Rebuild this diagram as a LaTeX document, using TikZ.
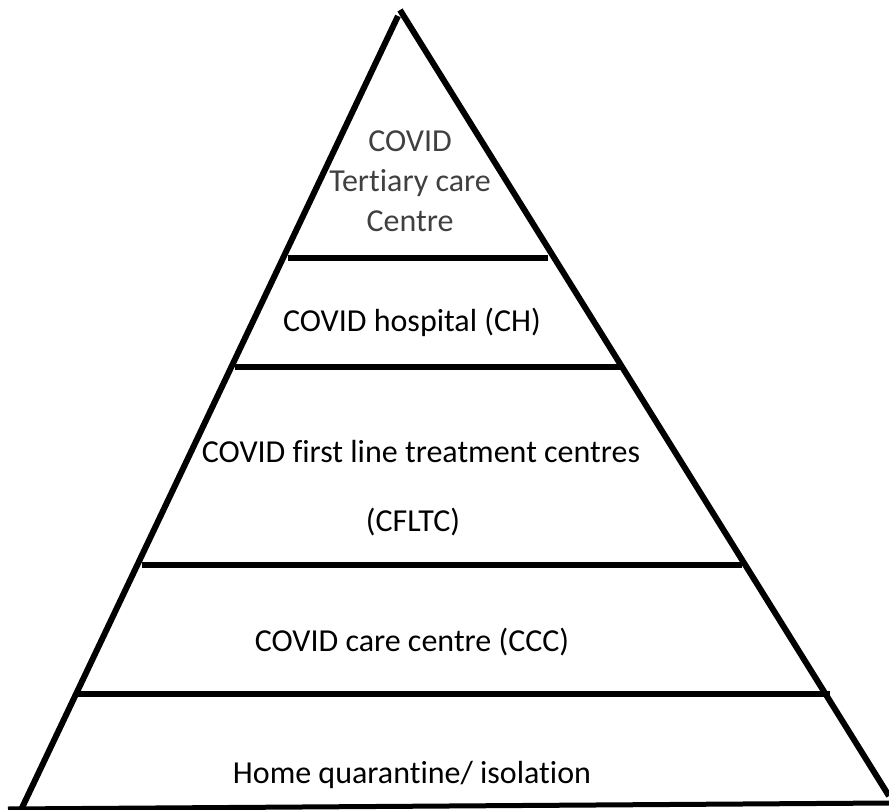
\documentclass[tikz,border=0pt]{standalone}
\usepackage{fontspec}
\setmainfont{Carlito}[Ligatures=NoCommon]
\usepackage{tikz}
\usetikzlibrary{positioning}
\usepackage{xcolor}

\begin{document}
\begin{tikzpicture}[
      x=1pt, y=-1pt,
      every node/.style={font=\fontsize{32}{40}\selectfont, inner sep=0pt},
      lbl/.style={anchor=base, text=black},
      toplbl/.style={align=center, text=black!75},
      side/.style={line width=6pt},
      tier/.style={line width=6pt}
    ]
    \useasboundingbox (0,0) rectangle (889,810);

    % ===== Outline of the pyramid =====
    \coordinate (apexL) at (398, 16);
    \coordinate (apexR) at (400, 10);
    \coordinate (baseL) at (20, 812);
    \coordinate (baseR) at (889, 796);
    \coordinate (floorL) at (8, 809);
    \coordinate (floorR) at (889, 803);

    \draw[side] (apexL) -- (baseL);
    \draw[side] (apexR) -- (baseR);
    \draw[side, line width=5pt] (floorL) -- (floorR);

    % ===== Tier dividers =====
    \coordinate (t1L) at (288, 258); \coordinate (t1R) at (548, 258);
    \coordinate (t2L) at (235, 367); \coordinate (t2R) at (622, 367);
    \coordinate (t3L) at (142, 565); \coordinate (t3R) at (742, 565);
    \coordinate (t4L) at (78, 694);  \coordinate (t4R) at (830, 694);

    \draw[tier] (t1L) -- (t1R);
    \draw[tier] (t2L) -- (t2R);
    \draw[tier] (t3L) -- (t3R);
    \draw[tier] (t4L) -- (t4R);

    % ===== Tier labels =====
    \node[toplbl, anchor=base] (tcc) at (410, 232) {COVID\\Tertiary care\\Centre};
    \node[lbl] (ch) at (412, 332) {COVID hospital (CH)};
    \node[lbl] (cfltc) at (421, 462) {COVID first line treatment centres};
    \node[lbl] (cfltcab) at (413, 531) {(CFLTC)};
    \node[lbl] (ccc) at (412, 651) {COVID care centre (CCC)};
    \node[lbl] (home) at (412, 783) {Home quarantine/ isolation};
  \end{tikzpicture}
\end{document}
